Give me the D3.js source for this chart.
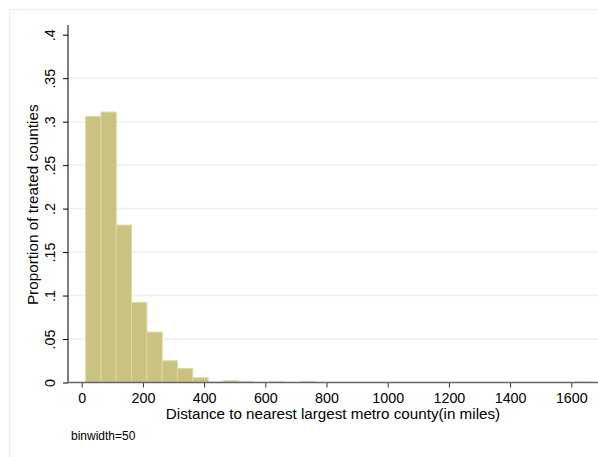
<!DOCTYPE html>
<html>
<head>
<meta charset="utf-8">
<script src="https://cdn.jsdelivr.net/npm/d3@7"></script>
<style>
  html, body { margin: 0; padding: 0; background: #fff; }
  svg { display: block; font-family: "Liberation Sans", Arial, sans-serif; }
</style>
</head>
<body>
<svg id="chart" width="598" height="457"></svg>
<script>
// ---- data ----
const binStart = 13;
const binWidth = 50;
const proportions = [
  0.306, 0.311, 0.181, 0.092, 0.058, 0.025, 0.016, 0.0055,
  0.0007, 0.002, 0.0009, 0, 0.0007, 0, 0.0009, 0,
  0, 0, 0, 0, 0, 0, 0, 0,
  0, 0, 0, 0, 0, 0, 0, 0,
  0.0007
];
const yTicks = [0, 0.05, 0.1, 0.15, 0.2, 0.25, 0.3, 0.35, 0.4];
const yTickLabels = ["0", ".05", ".1", ".15", ".2", ".25", ".3", ".35", ".4"];
const xTicks = [0, 200, 400, 600, 800, 1000, 1200, 1400, 1600];
const xTitle = "Distance to nearest largest metro county(in miles)";
const yTitle = "Proportion of treated counties";
const note = "binwidth=50";

const bins = proportions.map((p, i) => ({ x0: binStart + i * binWidth, x1: binStart + (i + 1) * binWidth, p }));

// ---- layout ----
const svg = d3.select("#chart");
const plotLeft = 68, plotRight = 598, plotTop = 25, plotBottom = 382.5;

const x = d3.scaleLinear().domain([0, 1600]).range([81.7, 571.3]);
const y = d3.scaleLinear().domain([0, 0.4]).range([plotBottom, 34.7]);

// outer frame
svg.append("rect")
  .attr("x", 9.5).attr("y", 9.5).attr("width", 620).attr("height", 480)
  .attr("fill", "#fff").attr("stroke", "#e8f0f2").attr("stroke-width", 1);

// gridlines
svg.append("g").selectAll("line")
  .data(yTicks.filter(t => t > 0 && t < 0.4))
  .join("line")
  .attr("x1", plotLeft).attr("x2", plotRight)
  .attr("y1", d => y(d)).attr("y2", d => y(d))
  .attr("stroke", "#e9f1f3").attr("stroke-width", 1.5);

// bars
svg.append("g").selectAll("rect")
  .data(bins.filter(b => b.p > 0))
  .join("rect")
  .attr("x", d => x(d.x0))
  .attr("width", d => x(d.x1) - x(d.x0))
  .attr("y", d => y(d.p))
  .attr("height", d => y(0) - y(d.p))
  .attr("fill", "#c9c37f")
  .attr("stroke", "#dcd8a2")
  .attr("stroke-width", 1);

// y axis
const yAxis = d3.axisLeft(y).tickValues(yTicks)
  .tickFormat((d, i) => yTickLabels[i]).tickSize(5).tickSizeOuter(0);
const gy = svg.append("g").attr("transform", `translate(${plotLeft},0)`).call(yAxis);
gy.select(".domain").remove();
gy.selectAll(".tick line").attr("stroke", "#000");
gy.selectAll(".tick text")
  .attr("x", 0).attr("dy", 0).attr("y", 0)
  .attr("transform", "translate(-13,0) rotate(-90)")
  .attr("text-anchor", "middle")
  .attr("font-size", 14.3).attr("fill", "#000")
  .attr("font-family", "Liberation Sans, Arial, sans-serif");
gy.append("line")
  .attr("x1", 0).attr("x2", 0).attr("y1", plotTop).attr("y2", plotBottom)
  .attr("stroke", "#000").attr("stroke-width", 1);

// x axis
const xAxis = d3.axisBottom(x).tickValues(xTicks).tickFormat(d3.format("d"))
  .tickSize(5).tickSizeOuter(0);
const gx = svg.append("g").attr("transform", `translate(0,${plotBottom})`).call(xAxis);
gx.select(".domain").remove();
gx.selectAll(".tick line").attr("stroke", "#333");
gx.selectAll(".tick text")
  .attr("y", 20.8).attr("dy", 0)
  .attr("font-size", 14.3).attr("fill", "#000")
  .attr("font-family", "Liberation Sans, Arial, sans-serif");
gx.append("line")
  .attr("x1", plotLeft).attr("x2", plotRight).attr("y1", 0).attr("y2", 0)
  .attr("stroke", "#666").attr("stroke-width", 1.3);

// titles
svg.append("text")
  .attr("transform", `translate(37.5,${(plotTop + plotBottom) / 2 + 1}) rotate(-90)`)
  .attr("text-anchor", "middle").attr("font-size", 15.3).attr("fill", "#000")
  .text(yTitle);
svg.append("text")
  .attr("x", 333).attr("y", 419.3)
  .attr("text-anchor", "middle").attr("font-size", 15.2).attr("fill", "#000")
  .text(xTitle);
svg.append("text")
  .attr("x", 71).attr("y", 440)
  .attr("font-size", 12).attr("fill", "#000")
  .text(note);
</script>
</body>
</html>
